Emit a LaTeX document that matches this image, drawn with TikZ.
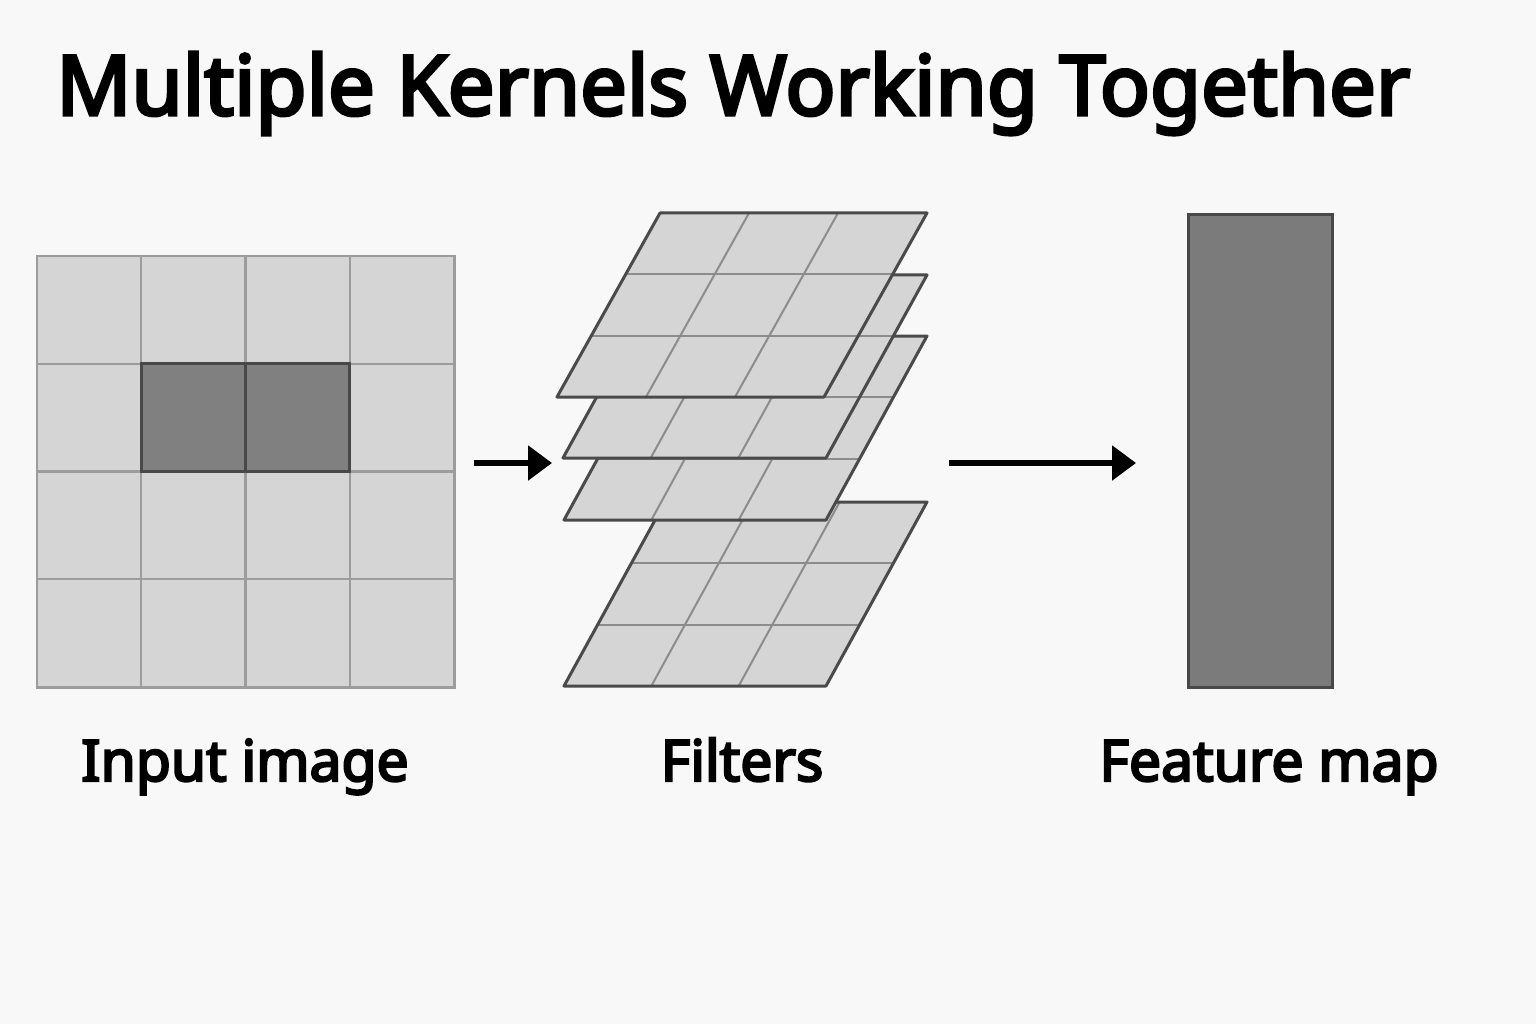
\documentclass[tikz,border=0pt]{standalone}
\usepackage{fontspec}
\setmainfont{Noto Sans}
\newfontfamily\heavyfont{Noto Sans}[FakeBold=4]
\usetikzlibrary{arrows.meta,calc}
\definecolor{bgc}{HTML}{F8F8F8}
\definecolor{cellc}{HTML}{D5D5D5}
\definecolor{gridc}{HTML}{9C9C9C}
\definecolor{edgec}{HTML}{4A4A4A}
\definecolor{hic}{HTML}{808080}
\definecolor{hiedge}{HTML}{484848}
\definecolor{fmapc}{HTML}{7B7B7B}
\tikzset{
  cellline/.style={draw=gridc, line width=2.4pt},
  layeredge/.style={draw=edgec, line width=3pt, line join=round},
  layergrid/.style={draw=gridc!90!black, line width=2pt},
  flowarrow/.style={line width=5.5pt, -{Triangle[length=24pt,width=34pt]}},
  lbl/.style={font=\heavyfont\fontsize{57}{60}\selectfont, anchor=base, inner sep=0pt},
}
% #1 name, #2 x of bottom-left, #3 y of bottom, #4 width, #5 slant, #6 height
\newcommand\kernellayer[6]{%
  \coordinate (#1-bl) at (#2,#3);
  \coordinate (#1-br) at (#2+#4,#3);
  \coordinate (#1-tr) at (#2+#4+#5,#3-#6);
  \coordinate (#1-tl) at (#2+#5,#3-#6);
  \fill[cellc] (#1-bl) -- (#1-br) -- (#1-tr) -- (#1-tl) -- cycle;
  \foreach \k in {1,2}{
    \draw[layergrid] ($(#1-bl)!\k/3!(#1-br)$) -- ($(#1-tl)!\k/3!(#1-tr)$);
    \draw[layergrid] ($(#1-bl)!\k/3!(#1-tl)$) -- ($(#1-br)!\k/3!(#1-tr)$);
  }
  \draw[layeredge] (#1-bl) -- (#1-br) -- (#1-tr) -- (#1-tl) -- cycle;
}
\begin{document}
\begin{tikzpicture}[x=1pt,y=-1pt]
\fill[bgc] (0,0) rectangle (1536,1024);
\useasboundingbox (0,0) rectangle (1536,1024);

% title
\node[font=\heavyfont\fontsize{83}{88}\selectfont, anchor=base west, inner sep=0pt] (title) at (56,115) {Multiple Kernels Working Together};

% input image
\node[draw=none, fill=cellc, minimum width=417pt, minimum height=431pt, anchor=north west, inner sep=0pt] (input) at (37,256) {};
\foreach \i in {1,2,3}{
  \draw[cellline] (37+\i*104.25,256) -- (37+\i*104.25,687);
  \draw[cellline] (37,256+\i*107.75) -- (454,256+\i*107.75);
}
\fill[hic] (141.25,363.75) rectangle (349.75,471.5);
\draw[draw=hiedge, line width=2.8pt] (141.25,363.75) rectangle (349.75,471.5);
\draw[draw=hiedge, line width=2.8pt] (245.5,363.75) -- (245.5,471.5);
\draw[cellline] (input.north west) rectangle (input.south east);

% filters (back to front)
\kernellayer{f4}{564}{686}{262}{101}{184}
\kernellayer{f3}{564}{520}{262}{101}{184}
\kernellayer{f2}{563}{458}{263}{101}{183}
\kernellayer{f1}{557}{397}{267}{103}{184}

% feature map
\node[fill=fmapc, draw=hiedge, line width=2.8pt, minimum width=144pt, minimum height=473pt, anchor=north west, inner sep=0pt] (fmap) at (1187,213) {};

% arrows
\coordinate (a1s) at (474,463);
\coordinate (a1e) at (552,463);
\coordinate (a2s) at (949,463);
\coordinate (a2e) at (1136,463);
\draw[flowarrow] (a1s) -- (a1e);
\draw[flowarrow] (a2s) -- (a2e);

% labels
\node[lbl] (linput) at (245,781) {Input image};
\node[lbl] (lfilters) at (742,781) {Filters};
\node[lbl] (lfmap) at (1269,781) {Feature map};
\end{tikzpicture}
\end{document}
